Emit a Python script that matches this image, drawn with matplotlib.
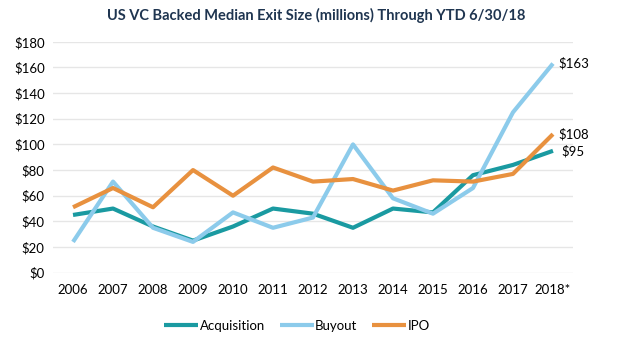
import numpy as np
import matplotlib.pyplot as plt

#### Data ############################################
years = ['2006', '2007', '2008', '2009', '2010', '2011', '2012',
         '2013', '2014', '2015', '2016', '2017', '2018*']
acquisition = [45, 50, 36, 25, 36, 50, 46, 35, 50, 47, 76, 84, 95]
buyout = [24, 71, 35, 24, 47, 35, 43, 100, 58, 46, 66, 125, 163]
ipo = [51, 66, 51, 80, 60, 82, 71, 73, 64, 72, 71, 77, 108]
yticks = list(range(0, 181, 20))
#####################################################

plt.rcParams['font.family'] = ['Lato', 'DejaVu Sans']

c_acq = '#1a9aa1'
c_buy = '#8ccbeb'
c_ipo = '#e8913f'

fig = plt.figure(figsize=(6.32, 3.48), dpi=100)
ax = fig.add_axes([0.0839, 0.2164, 0.8227, 0.6636])

x = np.arange(len(years))
ax.plot(x, acquisition, color=c_acq, lw=3, label='Acquisition', solid_capstyle='butt')
ax.plot(x, buyout, color=c_buy, lw=3, label='Buyout', solid_capstyle='butt')
ax.plot(x, ipo, color=c_ipo, lw=3, label='IPO', solid_capstyle='butt')

ax.set_xlim(-0.5, len(years) - 0.5)
ax.set_ylim(0, 180)
ax.set_yticks(yticks)
ax.set_yticklabels(['$%d' % v for v in yticks], fontsize=9.5)
ax.set_xticks(x)
ax.set_xticklabels(years, fontsize=9.5)
ax.tick_params(length=0, pad=8)
ax.tick_params(axis='y', pad=6)
ax.grid(axis='y', color='#e6e6e6', lw=1)
ax.set_axisbelow(True)
for s in ax.spines.values():
    s.set_visible(False)

# End labels
last = len(years) - 1
ax.annotate('$%d' % buyout[-1], (last, buyout[-1]), xytext=(5, 0),
            textcoords='offset pixels', ha='left', va='center', fontsize=9.5)
ax.annotate('$%d' % ipo[-1], (last, ipo[-1]), xytext=(5, 0),
            textcoords='offset pixels', ha='left', va='center', fontsize=9.5)
ax.annotate('$%d' % acquisition[-1], (last, acquisition[-1]), xytext=(32, 0),
            textcoords='offset pixels', ha='right', va='center', fontsize=9.5)

fig.text(0.5, 0.955, 'US VC Backed Median Exit Size (millions) Through YTD 6/30/18',
         ha='center', va='center', fontsize=10.5, fontweight='bold', color='#1f3550')

ax.legend(loc='center', bbox_to_anchor=(0.47, 0.0632), bbox_transform=fig.transFigure,
          ncol=3, frameon=False, fontsize=9.5, handlelength=2.6, handletextpad=0.1,
          columnspacing=1.1)

fig.savefig('out.png', dpi=100)
